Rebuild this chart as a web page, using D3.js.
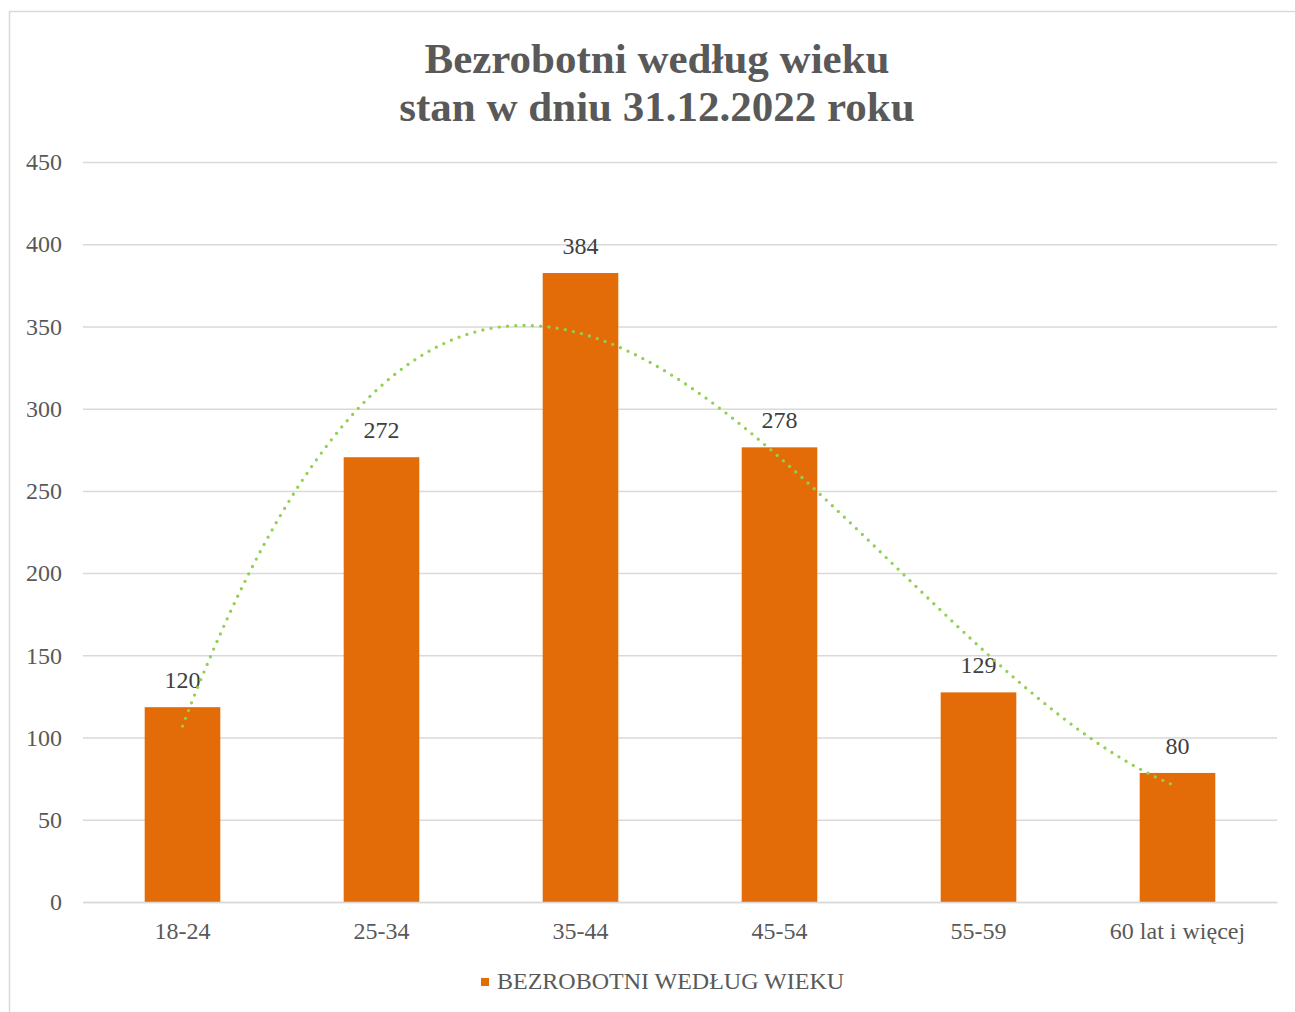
<!DOCTYPE html>
<html><head><meta charset="utf-8">
<script src="https://cdn.jsdelivr.net/npm/d3@7"></script>
<style>body{margin:0;background:#fff}svg{display:block}</style>
</head><body>
<script>
const categories = ["18-24","25-34","35-44","45-54","55-59","60 lat i więcej"];
const values = [120,272,384,278,129,80];
const yTicks = [0,50,100,150,200,250,300,350,400,450];
const titleLines = ["Bezrobotni według wieku","stan w dniu 31.12.2022 roku"];
const seriesName = "BEZROBOTNI WEDŁUG WIEKU";

const W=1295,H=1012;
const svg=d3.select("body").append("svg").attr("width",W).attr("height",H);
svg.append("rect").attr("x",9.5).attr("y",11.5).attr("width",W).attr("height",H).attr("fill","#fff").attr("stroke","#d9d9d9").attr("stroke-width",1.5);

const font="'Liberation Serif','Times New Roman',serif";
const x=d3.scaleBand().domain(categories).range([83,1277]).paddingInner(0.62).paddingOuter(0.31);
const y=d3.scaleLinear().domain([0,450]).range([902,162]);

// title
svg.append("g").selectAll("text").data(titleLines).join("text")
 .attr("x",657).attr("y",(d,i)=>73+i*48).attr("text-anchor","middle")
 .attr("font-family",font).attr("font-weight","bold").attr("font-size",43).attr("fill","#595959").text(d=>d);

// grid
const yAxis=d3.axisLeft(y).tickValues(yTicks).tickSize(-(1277-83)).tickPadding(20);
const ga=svg.append("g").attr("transform","translate(83,0)").call(yAxis);
ga.select(".domain").remove();
ga.selectAll(".tick line").attr("stroke","#d9d9d9").attr("stroke-width",1.5);
ga.selectAll(".tick text").attr("font-family",font).attr("font-size",24).attr("fill","#595959").attr("x",-21).attr("dy","0.32em");

// bars
const bars=svg.append("g").attr("transform","translate(0,2.5)");
bars.selectAll("rect").data(values).join("rect")
 .attr("x",(d,i)=>x(categories[i])).attr("width",x.bandwidth())
 .attr("y",d=>y(d)).attr("height",d=>Math.max(0,y(0)-y(d)-2.5)).attr("fill","#E36C09");

// x axis
const xa=svg.append("g").attr("transform","translate(0,902)").call(d3.axisBottom(x).tickSize(0).tickPadding(20));
xa.select(".domain").attr("stroke","#d9d9d9").attr("stroke-width",1.5);
xa.selectAll(".tick text").attr("font-family",font).attr("font-size",24).attr("fill","#595959");

// labels
svg.append("g").selectAll("text").data(values).join("text")
 .attr("x",(d,i)=>x(categories[i])+x.bandwidth()/2).attr("y",d=>y(d)-16.5)
 .attr("text-anchor","middle").attr("font-family",font).attr("font-size",24).attr("fill","#404040").text(d=>d);

// polynomial (order 3) trendline, least squares fit on the values
const xs=values.map((d,i)=>i+1);
const order=3, n=order+1;
const A=[...Array(n)].map(()=>Array(n+1).fill(0));
for(let r=0;r<n;r++){for(let c=0;c<n;c++){A[r][c]=d3.sum(xs,v=>Math.pow(v,r+c));}A[r][n]=d3.sum(xs,(v,i)=>values[i]*Math.pow(v,r));}
for(let i=0;i<n;i++){let p=i;for(let k=i+1;k<n;k++)if(Math.abs(A[k][i])>Math.abs(A[p][i]))p=k;[A[i],A[p]]=[A[p],A[i]];
 for(let k=0;k<n;k++){if(k===i)continue;const f=A[k][i]/A[i][i];for(let c=i;c<=n;c++)A[k][c]-=f*A[i][c];}}
const coef=A.map((r,i)=>r[n]/r[i]);
const poly=t=>coef.reduce((s,c,i)=>s+c*Math.pow(t,i),0);
const step=x.step(), x0=x(categories[0])+x.bandwidth()/2;
const pts=d3.range(1,6.0001,0.02).map(t=>[x0+(t-1)*step,y(poly(t))]);
svg.append("path").attr("d",d3.line()(pts)).attr("fill","none").attr("stroke","#92D050")
 .attr("stroke-width",3.3).attr("stroke-linecap","round").attr("stroke-dasharray","0 8.3");

// legend
const lg=svg.append("g");
lg.append("rect").attr("x",481).attr("y",978).attr("width",8).attr("height",8).attr("fill","#E36C09");
lg.append("text").attr("x",497).attr("y",989).attr("font-family",font).attr("font-size",24).attr("fill","#595959").text(seriesName);
</script>
</body></html>
